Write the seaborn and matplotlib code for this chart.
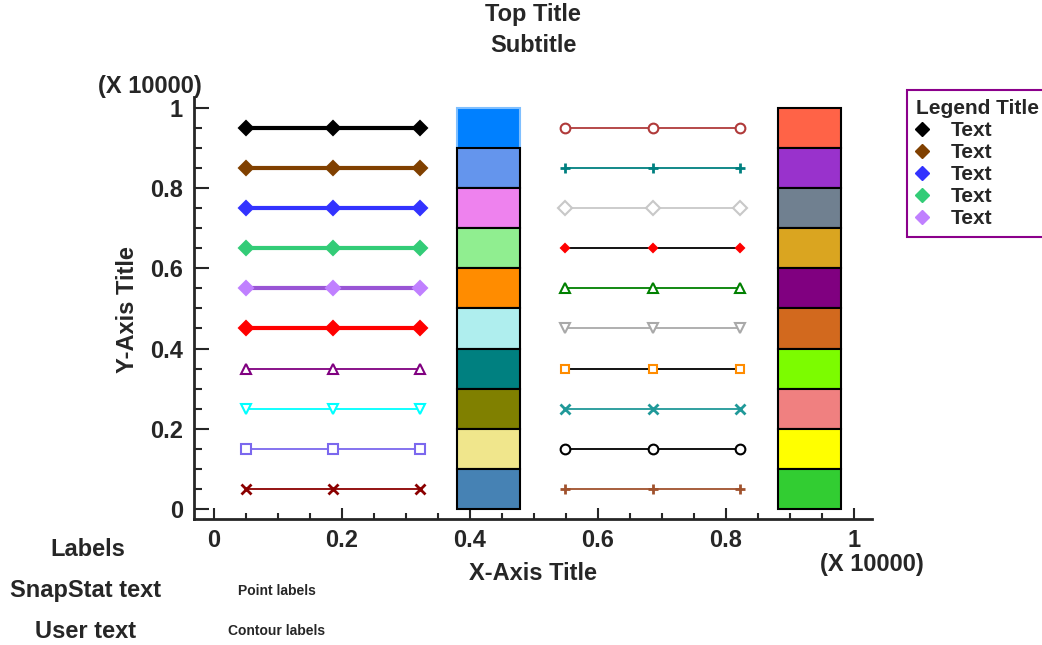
import numpy as np
import matplotlib
matplotlib.use("Agg")
import matplotlib.pyplot as plt
import seaborn as sns
from matplotlib.ticker import MultipleLocator, FuncFormatter
from matplotlib.lines import Line2D

# data (raw units, axes show values / 10000)
left_x = [500, 1860, 3220]
right_x = [5480, 6860, 8220]
line_y = [9500, 8500, 7500, 6500, 5500, 4500, 3500, 2500, 1500, 500]

left_line_colors = ["#000000", "#804000", "#3333FF", "#33CC77", "#9955D5",
                    "#FF0000", "#800080", "#00FFFF", "#7B68EE", "#8B0000"]
left_marker_colors = ["#000000", "#804000", "#3333FF", "#33CC77", "#C080FF",
                      "#FF0000", "#800080", "#00FFFF", "#7B68EE", "#8B0000"]
left_markers = ["D", "D", "D", "D", "D", "D", "^", "v", "s", "x"]
left_filled = [True, True, True, True, True, True, False, False, False, True]
left_widths = [3, 3, 3, 3, 3, 3, 1.3, 1.3, 1.3, 1.3]

right_line_colors = ["#B03A3A", "#008080", "#C8C8C8", "#000000", "#008000",
                     "#A9A9A9", "#000000", "#209999", "#000000", "#A0522D"]
right_marker_colors = ["#B03A3A", "#008080", "#C8C8C8", "#FF0000", "#008000",
                       "#A9A9A9", "#FF8C00", "#209999", "#000000", "#A0522D"]
right_markers = ["o", "+", "D", "D", "^", "v", "s", "x", "o", "+"]
right_filled = [False, True, False, True, False, False, False, True, False, True]

bar_centers = [4290, 9300]
bar_width = 980
bar_bottoms = [9000, 8000, 7000, 6000, 5000, 4000, 3000, 2000, 1000, 0]
bar_height = 1000
left_bar_colors = ["#0080FF", "#6495ED", "#EE82EE", "#90EE90", "#FF8C00",
                   "#AFEEEE", "#008080", "#808000", "#F0E68C", "#4682B4"]
right_bar_colors = ["#FF6347", "#9932CC", "#708090", "#DAA520", "#800080",
                    "#D2691E", "#7CFC00", "#F08080", "#FFFF00", "#32CD32"]

legend_labels = ["Text", "Text", "Text", "Text", "Text"]
legend_colors = ["#000000", "#804000", "#3333FF", "#33CC77", "#C080FF"]

sns.set_style("ticks")
plt.rcParams["font.family"] = ["Liberation Sans", "DejaVu Sans"]
plt.rcParams["font.weight"] = "bold"

W, H = 1042, 645
fig = plt.figure(figsize=(W / 100, H / 100), dpi=100)
ax = fig.add_axes([194 / W, 1 - 519 / H, (872 - 194) / W, (519 - 97) / H])

# stacked bars
for cx, cols in zip(bar_centers, [left_bar_colors, right_bar_colors]):
    edges = ["black"] * len(cols)
    if cx == bar_centers[0]:
        edges[0] = "#7FBFFF"
    ax.bar([cx] * len(bar_bottoms), [bar_height] * len(bar_bottoms), bottom=bar_bottoms,
           width=bar_width, color=cols, edgecolor=edges, linewidth=1.5, zorder=2)

def draw_line(xs, y, lc, mc, mk, filled, lw, ms):
    sns.lineplot(x=xs, y=[y] * len(xs), ax=ax, color=lc, linewidth=lw, marker=mk,
                 markersize=ms, markeredgecolor=mc,
                 markerfacecolor=mc if filled else "white",
                 markeredgewidth=2 if mk in ("x", "+") else 1.5, legend=False, zorder=3)

for i, y in enumerate(line_y):
    draw_line(left_x, y, left_line_colors[i], left_marker_colors[i], left_markers[i],
              left_filled[i], left_widths[i], 7)
for i, y in enumerate(line_y):
    ms = 4 if (right_markers[i] == "D" and right_filled[i]) else 7
    if right_markers[i] == "s":
        ms = 6
    draw_line(right_x, y, right_line_colors[i], right_marker_colors[i], right_markers[i],
              right_filled[i], 1.3, ms)

ax.set_xlim(-310, 10280)
ax.set_ylim(-250, 10270)
ax.xaxis.set_major_locator(MultipleLocator(2000))
ax.xaxis.set_minor_locator(MultipleLocator(500))
ax.yaxis.set_major_locator(MultipleLocator(2000))
ax.yaxis.set_minor_locator(MultipleLocator(500))
fmt = FuncFormatter(lambda v, p: f"{v / 10000:g}")
ax.xaxis.set_major_formatter(fmt)
ax.yaxis.set_major_formatter(fmt)
ax.tick_params(axis="both", which="both", direction="in", width=1.5, labelsize=17)
ax.tick_params(axis="x", which="major", length=8, pad=7)
ax.tick_params(axis="x", which="minor", length=4)
ax.tick_params(axis="y", which="major", length=11, pad=8)
ax.tick_params(axis="y", which="minor", length=6)
for lab in ax.get_xticklabels() + ax.get_yticklabels():
    lab.set_fontweight("bold")
sns.despine(ax=ax)
ax.spines["left"].set_linewidth(2)
ax.spines["bottom"].set_linewidth(2)
ax.set_xlabel("")
ax.set_ylabel("")

def ftext(x, y, s, size=17, **kw):
    fig.text(x / W, 1 - y / H, s, fontsize=size, fontweight="bold",
             ha=kw.pop("ha", "center"), va=kw.pop("va", "center"), **kw)

ftext(533, 15, "Top Title")
ftext(533, 45, "Subtitle")
ftext(150, 87, "(X 10000)")
ftext(872, 564, "(X 10000)")
ftext(533, 573, "X-Axis Title")
ftext(128, 310, "Y-Axis Title", rotation=90)
ftext(88, 550, "Labels")
ftext(86, 590, "SnapStat text")
ftext(86, 631, "User text")
ftext(277, 591, "Point labels", size=10)
ftext(277, 631, "Contour labels", size=10)

handles = [Line2D([], [], linestyle="none", marker="D", markersize=7,
                  color=c) for c in legend_colors]
leg = fig.legend(handles, legend_labels, title="Legend Title",
                 loc="upper left", bbox_to_anchor=(907 / W, 1 - 90 / H),
                 frameon=True, fancybox=False, framealpha=1, edgecolor="#8B008B",
                 prop={"size": 15, "weight": "bold"},
                 title_fontproperties={"size": 15, "weight": "bold"},
                 labelspacing=0.15, handlelength=0.6, handletextpad=1.1,
                 borderpad=0.42, borderaxespad=0)
leg.get_frame().set_linewidth(1.5)
leg._legend_box.align = "left"

fig.savefig("out.png", dpi=100)
